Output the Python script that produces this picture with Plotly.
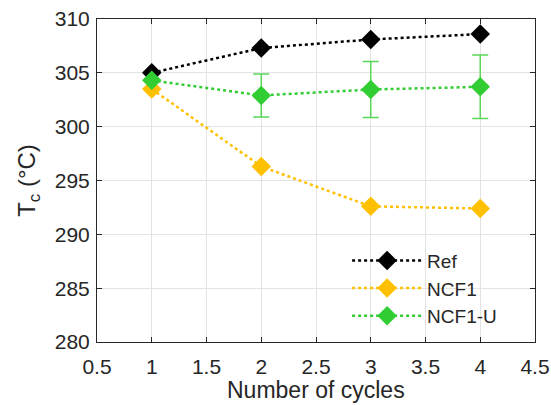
import plotly.graph_objects as go

cycles = [1, 2, 3, 4]
ref_tc = [305.0, 307.3, 308.1, 308.6]
ncf1_tc = [303.5, 296.3, 292.6, 292.4]
ncf1u_tc = [304.3, 302.9, 303.45, 303.7]
ncf1u_err = [0.0, 2.0, 2.6, 2.95]

x_ticks = [0.5, 1, 1.5, 2, 2.5, 3, 3.5, 4, 4.5]
y_ticks = [280, 285, 290, 295, 300, 305, 310]

FONT = "Liberation Sans, Arial, sans-serif"
TXT = "#262626"

series = [
    ("Ref", ref_tc, "black", None),
    ("NCF1", ncf1_tc, "rgb(255,192,0)", None),
    ("NCF1-U", ncf1u_tc, "rgb(50,205,50)", ncf1u_err),
]

fig = go.Figure()
for name, vals, col, err in series:
    kw = {}
    if err is not None:
        kw["error_y"] = dict(type="data", array=err, visible=True,
                             color="rgb(90,215,90)", thickness=1.5, width=8)
    fig.add_trace(go.Scatter(
        x=cycles, y=vals, name=name, mode="lines+markers",
        line=dict(color=col, width=2.5, dash="dot"),
        marker=dict(symbol="diamond", size=15, color=col),
        **kw,
    ))

axis_common = dict(
    showline=True, linecolor=TXT, linewidth=1, mirror="ticks",
    ticks="inside", ticklen=5, tickcolor=TXT, automargin=True,
    showgrid=True, gridcolor="#e3e3e3", gridwidth=1, zeroline=False,
    tickfont=dict(family=FONT, size=21, color=TXT),
)

fig.update_xaxes(range=[0.5, 4.5], tickvals=x_ticks,
                 ticktext=[f"{t:g}" for t in x_ticks],
                 ticklabelstandoff=6,
                 **axis_common)
fig.update_yaxes(range=[280, 310], tickvals=y_ticks,
                 ticklabelstandoff=2,
                 title=dict(text="T<sub>c</sub> (°C)", standoff=12,
                            font=dict(family=FONT, size=24, color=TXT)),
                 **axis_common)

# x-axis title placed as an annotation so it can sit low in the bottom margin
fig.add_annotation(text="Number of cycles", xref="paper", yref="paper",
                   x=0.5, y=0, xanchor="center", yanchor="middle",
                   yshift=-48, showarrow=False,
                   font=dict(family=FONT, size=23, color=TXT))

fig.update_layout(
    width=551, height=405,
    margin=dict(l=97, r=16, t=19, b=63, autoexpand=False),
    paper_bgcolor="white", plot_bgcolor="white",
    legend=dict(x=0.571, y=0.02, xanchor="left", yanchor="bottom",
                bgcolor="rgba(0,0,0,0)", tracegroupgap=0, itemwidth=70,
                font=dict(family=FONT, size=19, color=TXT)),
    showlegend=True,
)

fig.write_html("out.html")
